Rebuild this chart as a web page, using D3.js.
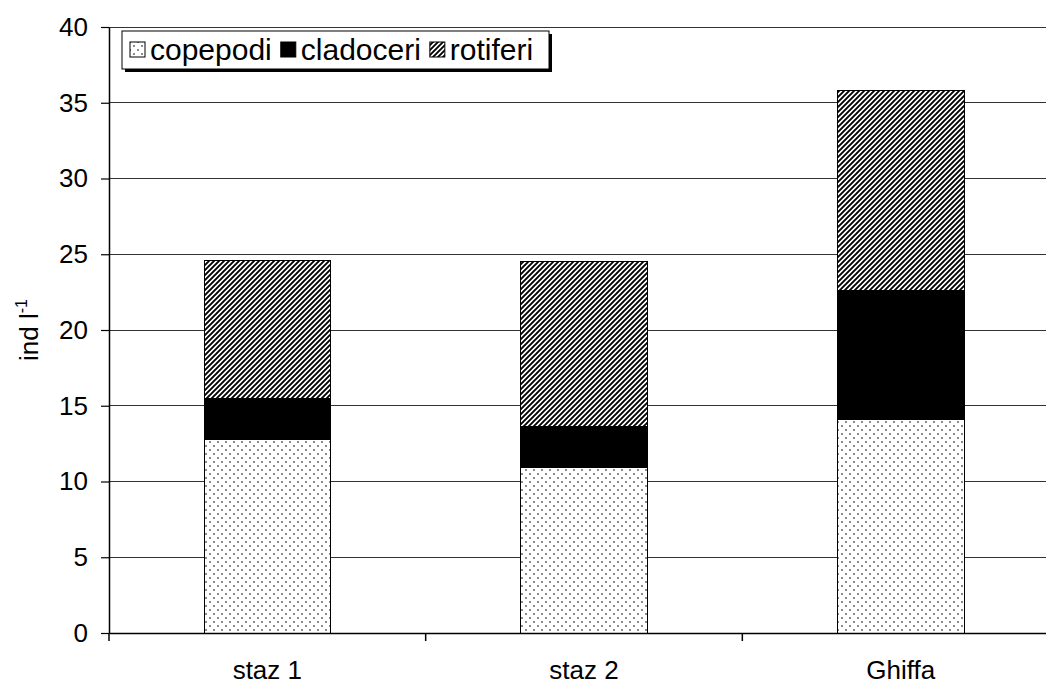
<!DOCTYPE html>
<html><head><meta charset="utf-8">
<script src="https://cdn.jsdelivr.net/npm/d3@7"></script>
<style>html,body{margin:0;padding:0;background:#fff;overflow:hidden}svg{display:block}</style>
</head><body>
<script>
const categories = ["staz 1", "staz 2", "Ghiffa"];
const seriesNames = ["copepodi", "cladoceri", "rotiferi"];
const copepodi = [12.8, 10.9, 14.1];
const cladoceri = [2.7, 2.7, 8.5];
const rotiferi = [9.1, 10.9, 13.2];
const yTicks = [0, 5, 10, 15, 20, 25, 30, 35, 40];

const W = 1046, H = 684;
const font = "'Liberation Sans', Arial, sans-serif";
const svg = d3.select("body").append("svg").attr("width", W).attr("height", H);

const defs = svg.append("defs");
const dots = defs.append("pattern").attr("id", "pDots").attr("patternUnits", "userSpaceOnUse")
  .attr("width", 8).attr("height", 8);
dots.append("rect").attr("width", 8).attr("height", 8).attr("fill", "#fff");
dots.append("circle").attr("cx", 2).attr("cy", 2).attr("r", 0.9).attr("fill", "#555");
dots.append("circle").attr("cx", 6).attr("cy", 6).attr("r", 0.9).attr("fill", "#555");

const hatch = defs.append("pattern").attr("id", "pHatch").attr("patternUnits", "userSpaceOnUse")
  .attr("width", 5).attr("height", 5);
hatch.append("rect").attr("width", 5).attr("height", 5).attr("fill", "#fff");
hatch.append("path").attr("d", "M-1,1 l2,-2 M0,5 l5,-5 M4,6 l2,-2").attr("stroke", "#000").attr("stroke-width", 1.9);

const fills = ["url(#pDots)", "#000", "url(#pHatch)"];

const x = d3.scaleBand().domain(categories).range([109, 1059]).paddingInner(0.6).paddingOuter(0.3);
const y = d3.scaleLinear().domain([0, 40]).range([633, 27]);

// gridlines
svg.append("g").selectAll("line").data(yTicks.filter(d => d > 0)).join("line")
  .attr("x1", 109).attr("x2", 1059).attr("y1", d => y(d)).attr("y2", d => y(d))
  .attr("stroke", "#333").attr("stroke-width", 1).attr("shape-rendering", "crispEdges");

// stacked bars
const table = categories.map((c, i) => ({cat: c, copepodi: copepodi[i], cladoceri: cladoceri[i], rotiferi: rotiferi[i]}));
const stack = d3.stack().keys(seriesNames)(table);
stack.forEach((layer, li) => {
  svg.append("g").selectAll("rect").data(layer).join("rect")
    .attr("x", d => x(d.data.cat))
    .attr("width", x.bandwidth())
    .attr("y", d => y(d[1]))
    .attr("height", d => y(d[0]) - y(d[1]))
    .attr("fill", fills[li])
    .attr("stroke", "#000").attr("stroke-width", 1).attr("shape-rendering", "crispEdges");
});

// y axis
const yAxis = svg.append("g").attr("transform", "translate(109,0)")
  .call(d3.axisLeft(y).tickValues(yTicks).tickSize(8).tickPadding(13).tickSizeOuter(0));
yAxis.select(".domain").attr("stroke", "#000").attr("stroke-width", 1.5);
yAxis.selectAll("line").attr("stroke", "#000").attr("stroke-width", 1.2);
yAxis.selectAll("text").attr("font-family", font).attr("font-size", 26).attr("fill", "#000");

// x axis
const xAxis = svg.append("g").attr("transform", "translate(0,633)")
  .call(d3.axisBottom(x).tickSize(0).tickPadding(28).tickSizeOuter(0));
xAxis.select(".domain").attr("stroke", "#000").attr("stroke-width", 1.5);
xAxis.selectAll("text").attr("font-family", font).attr("font-size", 26).attr("fill", "#000");
const step = x.step();
const bounds = d3.range(categories.length + 1).map(i => 109 + i * step);
xAxis.append("g").selectAll("line").data(bounds).join("line")
  .attr("x1", d => d).attr("x2", d => d).attr("y1", 0).attr("y2", 8)
  .attr("stroke", "#000").attr("stroke-width", 1.5);

// y label
svg.append("text").attr("transform", "translate(38,330) rotate(-90)")
  .attr("text-anchor", "middle").attr("font-family", font).attr("font-size", 26)
  .text("ind l").append("tspan").attr("dy", -11).attr("font-size", 16).text("-1");

// legend
const lg = svg.append("g");
const shadow = lg.append("rect").attr("fill", "#000");
const box = lg.append("rect").attr("fill", "#fff").attr("stroke", "#000").attr("stroke-width", 1);
let cx = 130;
seriesNames.forEach((n, i) => {
  lg.append("rect").attr("x", cx).attr("y", 42).attr("width", 15).attr("height", 15)
    .attr("fill", fills[i]).attr("stroke", "#000").attr("stroke-width", 1);
  cx += 20;
  const t = lg.append("text").attr("x", cx).attr("y", 60).attr("font-family", font)
    .attr("font-size", 30).text(n);
  cx += t.node().getComputedTextLength() + 9;
});
const bw = Math.max(cx + 2 - 122, 427);
box.attr("x", 122).attr("y", 31).attr("width", bw).attr("height", 38);
shadow.attr("x", 125).attr("y", 34).attr("width", bw).attr("height", 38);
</script>
</body></html>
